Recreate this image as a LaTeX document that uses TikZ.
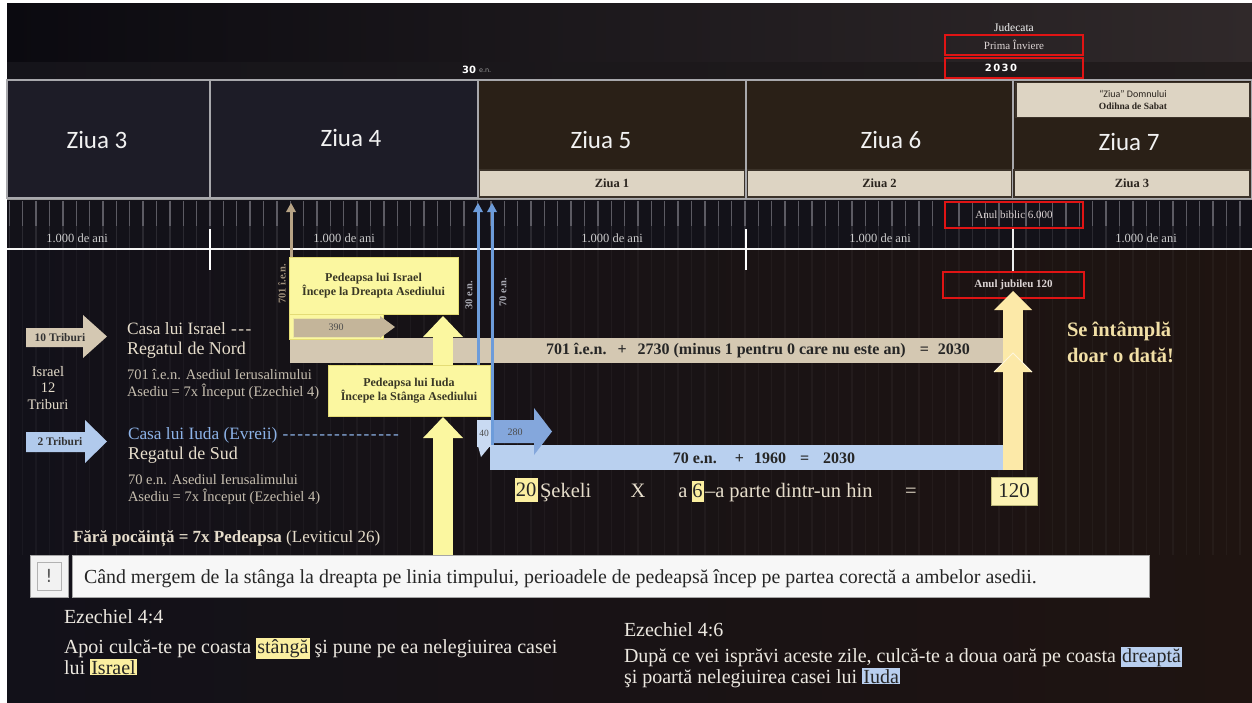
\documentclass[tikz,border=0pt]{standalone}
\usepackage{fontspec}
\setmainfont{Liberation Serif}
\newfontfamily\calfont{Carlito}
\newfontfamily\sansfont{DejaVu Sans}
\newfontfamily\spacedfont{DejaVu Sans}[LetterSpace=14]
\usetikzlibrary{arrows.meta}
\definecolor{bgA}{HTML}{121119}
\definecolor{bgB}{HTML}{1F1411}
\definecolor{topA}{HTML}{0B0A10}
\definecolor{topB}{HTML}{30292A}
\definecolor{stripA}{HTML}{15141A}
\definecolor{stripB}{HTML}{221C1C}
\definecolor{tickbg}{HTML}{131219}
\definecolor{tickc}{HTML}{5C5B63}
\definecolor{tickd}{HTML}{2A2930}
\definecolor{navy}{HTML}{1D1C27}
\definecolor{brownbox}{HTML}{2A2017}
\definecolor{dayln}{HTML}{A8A8AC}
\definecolor{beige}{HTML}{DDD4C3}
\definecolor{subbd}{HTML}{3B3229}
\definecolor{subtx}{HTML}{2A241E}
\definecolor{redbd}{HTML}{E01414}
\definecolor{redtx}{HTML}{DCD4D4}
\definecolor{yrtx}{HTML}{CFCFCF}
\definecolor{tanbarc}{HTML}{D4C8B2}
\definecolor{tanarr}{HTML}{B7A385}
\definecolor{tandark}{HTML}{C4B59A}
\definecolor{tanlbl}{HTML}{9F907B}
\definecolor{vlbl}{HTML}{A9AAB3}
\definecolor{bluelinec}{HTML}{6D9CDA}
\definecolor{bluebarc}{HTML}{B9D0EF}
\definecolor{bluemid}{HTML}{84A7DC}
\definecolor{bluelt}{HTML}{C9DAF2}
\definecolor{yel}{HTML}{FBF7A0}
\definecolor{yelbd}{HTML}{E4DC76}
\definecolor{ytx}{HTML}{3A3826}
\definecolor{cream}{HTML}{FCE9A8}
\definecolor{txtlt}{HTML}{E6DDCB}
\definecolor{txtgray}{HTML}{C7BFB0}
\definecolor{iudablue}{HTML}{8DB3E8}
\definecolor{gold}{HTML}{F1DFA6}
\definecolor{hlblue}{HTML}{B9CFEF}
\definecolor{hlyel}{HTML}{FBEFA0}
\definecolor{botx}{HTML}{ECE8E0}
\newcommand\fsz[2]{\fontsize{#1}{#2}\selectfont}
\newcommand\hly[1]{{\setlength{\fboxsep}{1.2pt}\colorbox{hlyel}{\color{black!85}#1}}}
\newcommand\hlb[1]{{\setlength{\fboxsep}{1.2pt}\colorbox{hlblue}{\color{black!85}#1}}}
\newcommand\dashrun[1]{\hbox to #1{\xleaders\hbox{\kern0.7pt-\kern0.7pt}\hfill}}
\begin{document}
\begin{tikzpicture}[x=1pt,y=-1pt,
  every node/.style={inner sep=0pt,outer sep=0pt},
  lbl/.style={anchor=base west,text=txtlt},
  dayline/.style={draw=dayln,line width=1.6pt},
  daytxt/.style={text=white!90!gray,font=\calfont\fsz{25}{30}},
  subbox/.style={fill=beige,draw=subbd,line width=1.2pt,minimum height=27pt,text=subtx,font=\bfseries\fsz{12.5}{14}},
  redbox/.style={draw=redbd,line width=2.6pt,minimum width=138pt,text=redtx,font=\fsz{11}{12}},
  yearlbl/.style={text=yrtx,font=\fsz{12.5}{14}},
  rot/.style={rotate=90,font=\bfseries\fsz{10.5}{12}},
  tanln/.style={draw=tanarr,line width=3pt,-{Triangle[width=10pt,length=9pt,line width=0pt]}},
  blueln/.style={draw=bluelinec,line width=3pt,-{Triangle[width=10pt,length=9pt,line width=0pt]}},
  ybox/.style={fill=yel,draw=yelbd,line width=1pt,align=center,text=ytx,font=\bfseries\fsz{12}{14.5}},
  yarrow/.style={draw=yel,line width=20pt,-{Triangle[width=40pt,length=21pt,line width=0pt]}},
  carrow/.style={draw=cream,line width=20pt,-{Triangle[width=38pt,length=19pt,line width=0pt]}},
  hlbox/.style={fill=hlyel,text=black!85,font=\fsz{20.5}{22}},
  eqt/.style={anchor=base,text=txtlt,font=\fsz{20.5}{22}},
  vtx/.style={lbl,text=botx,font=\fsz{20}{22}},
]
\useasboundingbox (0,0) rectangle (1252,702);
% background
\fill[white] (0,0) rectangle (1252,702);
\shade[left color=bgA,right color=bgB] (7,3) rectangle (1252,702);
\shade[left color=topA,right color=topB] (7,3) rectangle (1252,62);
\shade[left color=stripA,right color=stripB] (7,62) rectangle (1252,80);
\foreach \i in {-15,...,78}{
  \draw[white,opacity=0.035,line width=1.3pt] ({210+13.375*\i},250) -- ({210+13.375*\i},555);
}
% tick band
\fill[tickbg] (7,198) rectangle (1252,250);
\foreach \i in {-15,...,78}{
  \draw[tickc,line width=1.3pt] ({210+13.375*\i},201) -- ({210+13.375*\i},226);
  \draw[tickd,line width=1.3pt] ({210+13.375*\i},226) -- ({210+13.375*\i},248);
}
\draw[gray!80,line width=1.2pt] (7,199.5) -- (1252,199.5);
\draw[white!92!gray,line width=2.5pt] (7,249) -- (1252,249);
\draw[white,line width=2pt] (210,229) -- (210,270);
\draw[white,line width=2pt] (746,229) -- (746,270);
\draw[white!85!gray,line width=1.5pt] (1013,229) -- (1013,272);
% day boxes
\draw[dayline,fill=navy] (7,80) rectangle (210,198);
\draw[dayline,fill=navy] (210,80) rectangle (478,198);
\draw[dayline,fill=brownbox] (478,80) rectangle (746,198);
\draw[dayline,fill=brownbox] (746,80) rectangle (1013,198);
\draw[dayline,fill=brownbox] (1013,80) rectangle (1252,198);
\node[daytxt] (z3) at (97,140) {Ziua 3};
\node[daytxt] (z4) at (351,138) {Ziua 4};
\node[daytxt] (z5) at (601,140) {Ziua 5};
\node[daytxt] (z6) at (891,140) {Ziua 6};
\node[daytxt] (z7) at (1129,142) {Ziua 7};
\node[subbox,minimum width=265pt] (s1) at (612,183.5) {Ziua 1};
\node[subbox,minimum width=264pt] (s2) at (879.5,183.5) {Ziua 2};
\node[subbox,minimum width=236pt] (s3) at (1132,183.5) {Ziua 3};
\node[subbox,minimum width=234pt,minimum height=35pt,align=center,font=\fsz{10}{12}] (sab) at (1133,100)
  {{\calfont\fsz{10}{12}“Ziua” Domnului}\\{\bfseries\fsz{9.5}{12}Odihna de Sabat}};
% top labels
\node[anchor=east,text=white,font=\sansfont\bfseries\fsz{10}{12}] (t30) at (476,70) {30};
\node[anchor=west,text=gray!80,font=\sansfont\fsz{6.5}{8}] (ten) at (479,71) {e.n.};
\node[text=white!92!gray,font=\fsz{11.5}{13}] (jud) at (1014,28) {Judecata};
\node[redbox,minimum height=20pt] (rprima) at (1014,45) {Prima Înviere};
\node[redbox,minimum height=20pt,text=white,font=\spacedfont\bfseries\fsz{10}{12}] (r2030) at (1014,68) {\hspace*{-26pt}2030};
\node[redbox,minimum height=26pt] (ranul) at (1014,215) {Anul biblic 6.000};
\node[redbox,minimum width=141pt,minimum height=26pt,font=\bfseries\fsz{11}{12}] (rjub) at (1013.5,285) {Anul jubileu 120};
% year labels
\node[yearlbl] (y1) at (77,238) {1.000 de ani};
\node[yearlbl] (y2) at (344,238) {1.000 de ani};
\node[yearlbl] (y3) at (612,238) {1.000 de ani};
\node[yearlbl] (y4) at (880,238) {1.000 de ani};
\node[yearlbl] (y5) at (1146,238) {1.000 de ani};
% bars
\node[fill=tanbarc,minimum width=713pt,minimum height=25pt,anchor=north west] (tanbar) at (290,338) {};
\node[text=black!85,font=\bfseries\fsz{16}{18}] (tantxt) at (758,351)
  {701 î.e.n.\hspace{11pt}+\hspace{11pt}2730 (minus 1 pentru 0 care nu este an)\hspace{14pt}=\hspace{9pt}2030};
\node[fill=bluebarc,minimum width=513pt,minimum height=25pt,anchor=north west] (bluebar) at (490,445) {};
\node[text=black!85,font=\bfseries\fsz{16}{18}] (bluetxt) at (764,458)
  {70 e.n.\hspace{18pt}+\hspace{10pt}1960\hspace{14pt}=\hspace{14pt}2030};
% 280 / 40 arrows
\fill[bluemid] (491,420) -- (534,420) -- (534,408) -- (552,431.5) -- (534,455) -- (534,443) -- (491,443) -- cycle;
\node[text=black!70,font=\fsz{10}{12}] (n280) at (515,432) {280};
\fill[bluelt] (477,420) rectangle (491,447);
\fill[bluelt] (478,446) -- (490,446) -- (481,457) -- cycle;
\node[text=black!70,font=\fsz{9.5}{11}] (n40) at (484,433) {40};
% yellow boxes
\fill[yel,draw=yelbd,line width=1pt] (289,312) rectangle (383,339);
\fill[tandark,draw=yelbd!70!white,line width=1pt] (293,318) rectangle (380,337);
\fill[tandark] (380,316) -- (395,327) -- (380,338) -- cycle;
\node[text=black!70,font=\fsz{10}{12}] (n390) at (336,327.5) {390};
\node[ybox,minimum width=169pt,minimum height=57pt] (isr) at (373.5,285.5) {Pedeapsa lui Israel\\Începe la Dreapta Asediului};
\node[ybox,minimum width=162pt,minimum height=51pt] (iuda) at (409,390.5) {Pedeapsa lui Iuda\\Începe la Stânga Asediului};
% vertical timeline arrows
\coordinate (tip701) at (291,203);
\coordinate (tip30) at (478,203);
\coordinate (tip70) at (492,203);
\draw[tanln] ([xshift=2pt]isr.north west) -- (tip701);
\draw[blueln] (iuda.north -| tip30) -- (tip30);
\draw[blueln] ([xshift=2pt]bluebar.north west) -- (tip70);
\node[rot,text=tanlbl] (l701) at (282,284) {701 î.e.n.};
\node[rot,text=vlbl] (l30) at (469,295) {30 e.n.};
\node[rot,text=vlbl] (l70) at (503,292) {70 e.n.};
% notice bar
\node[draw=gray!70,fill=white!94!gray,line width=1pt,minimum width=1077pt,minimum height=42pt,anchor=north west] (notice) at (72,555) {};
\node[draw=gray!70,fill=white!90!gray,line width=1pt,minimum width=38pt,minimum height=42pt,anchor=north west] (bang) at (30,555) {};
\node[draw=gray!60,line width=1pt,minimum width=24pt,minimum height=28pt,text=gray!70!black,font=\sansfont\fsz{18}{20}] (bangin) at (49,576) {!};
\node[anchor=base west,text=black!85,font=\fsz{19.9}{22}] (notetxt) at (84,583)
  {Când mergem de la stânga la dreapta pe linia timpului, perioadele de pedeapsă încep pe partea corectă a ambelor asedii.};
% yellow block arrows
\coordinate (ax) at (443,0);
\draw[yarrow,shorten >=2pt] (iuda.north -| ax) -- (isr.south -| ax);
\draw[yarrow,shorten >=1pt] (notice.north -| ax) -- (iuda.south -| ax);
% right cream arrow
\coordinate (rax) at (1013,0);
\coordinate (midtip) at (1013,353);
\coordinate (midbase) at (1013,372);
\draw[carrow,shorten >=6pt] (midbase) -- (rjub.center -| rax);
\draw[carrow] (bluebar.south -| rax) -- (midtip);
\draw[white!60!cream,line width=0.8pt] ([xshift=-19pt,yshift=-19pt]midtip) -- (midtip) -- ([xshift=19pt,yshift=-19pt]midtip);
% left arrows
\fill[tanbarc] (26,328) -- (83,328) -- (83,315) -- (107,336.5) -- (83,358) -- (83,347) -- (26,347) -- cycle;
\node[text=black!80,font=\bfseries\fsz{11.5}{13}] (tr10) at (60,337.5) {10 Triburi};
\fill[bluebarc!85!bluemid] (26,432) -- (85,432) -- (85,420) -- (107,441.5) -- (85,463) -- (85,452) -- (26,452) -- cycle;
\node[text=black!80,font=\bfseries\fsz{11.5}{13}] (tr2) at (60,442) {2 Triburi};
% left texts
\node[lbl,font=\fsz{17.3}{20}] (casaI) at (127,334) {Casa lui Israel \dashrun{22pt}};
\node[lbl,font=\fsz{18}{20}] (regN) at (127,354.5) {Regatul de Nord};
\node[lbl,text=txtgray,font=\fsz{14.5}{16}] (as1) at (127,379.5) {701 î.e.n. Asediul Ierusalimului};
\node[lbl,text=txtgray,font=\fsz{14.5}{16}] (as2) at (127,396.5) {Asediu = 7x Început (Ezechiel 4)};
\node[align=center,text=txtlt,font=\fsz{14.5}{16.5}] (isr12) at (48,388) {Israel\\12\\Triburi};
\node[lbl,text=iudablue,font=\fsz{17.3}{20}] (casaJ) at (128,439) {Casa lui Iuda (Evreii) \dashrun{118pt}};
\node[lbl,font=\fsz{18}{20}] (regS) at (128,459.5) {Regatul de Sud};
\node[lbl,text=txtgray,font=\fsz{14.5}{16}] (as3) at (128,484.5) {70 e.n. Asediul Ierusalimului};
\node[lbl,text=txtgray,font=\fsz{14.5}{16}] (as4) at (128,501.5) {Asediu = 7x Început (Ezechiel 4)};
\node[lbl,font=\fsz{17}{20}] (fara) at (73,542) {\textbf{Fără pocăință = 7x Pedeapsa} (Leviticul 26)};
% equation row
\node[hlbox,minimum width=23pt,minimum height=24pt] (b20) at (526,490) {20};
\node[eqt,anchor=base west] (sek) at (540,497) {Şekeli};
\node[eqt] (xx) at (638,497) {X};
\node[eqt] (aa) at (683,497) {a};
\node[hlbox,minimum width=12pt,minimum height=21pt] (b6) at (697.5,491) {6};
\node[eqt,anchor=base west] (parte) at (705,497) {–a parte dintr-un hin};
\node[eqt] (eq) at (911,497) {=};
\node[fill=hlyel!80!white,draw=yelbd!60!gray,line width=0.8pt,minimum width=46pt,minimum height=28pt,text=black!85,font=\fsz{21}{22}] (n120) at (1014,491) {120};
% right note
\node[anchor=base west,align=left,text=gold,font=\bfseries\fsz{20.5}{26}] (once) at (1067,362) {Se întâmplă\\doar o dată!};
% bottom verses
\node[vtx] (ez44) at (64,623) {Ezechiel 4:4};
\node[vtx] (ap1) at (64,653) {Apoi culcă-te pe coasta \hly{stângă} şi pune pe ea nelegiuirea casei};
\node[vtx] (ap2) at (64,674) {lui \hly{Israel}};
\node[vtx] (ez46) at (624,636) {Ezechiel 4:6};
\node[vtx] (dp1) at (624,662) {După ce vei isprăvi aceste zile, culcă-te a doua oară pe coasta \hlb{dreaptă}};
\node[vtx] (dp2) at (624,683) {şi poartă nelegiuirea casei lui \hlb{Iuda}};
\end{tikzpicture}
\end{document}
